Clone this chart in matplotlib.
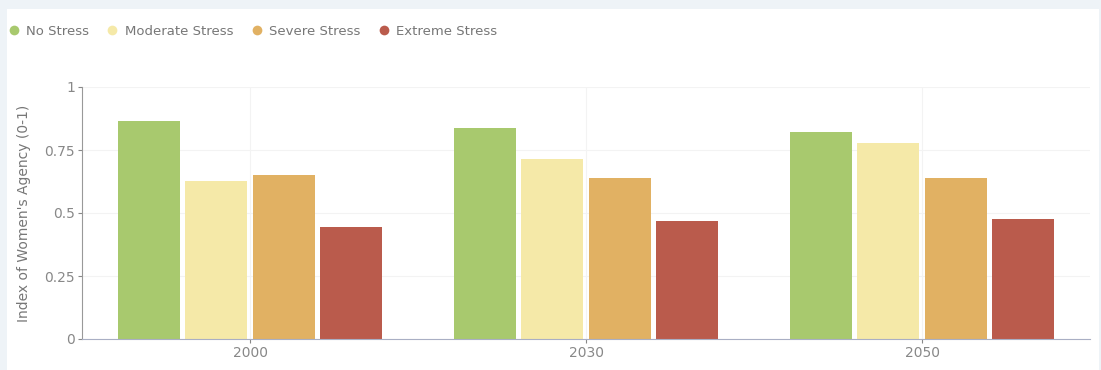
import numpy as np
import matplotlib.pyplot as plt
from matplotlib.lines import Line2D

years = ["2000", "2030", "2050"]
series = ["No Stress", "Moderate Stress", "Severe Stress", "Extreme Stress"]
no_stress = [0.865, 0.837, 0.820]
moderate_stress = [0.627, 0.714, 0.776]
severe_stress = [0.651, 0.639, 0.638]
extreme_stress = [0.446, 0.468, 0.475]
yticks = [0, 0.25, 0.5, 0.75, 1]
ytick_labels = ["0", "0.25", "0.5", "0.75", "1"]

colors = ["#a8c96e", "#f5e9a8", "#e1b163", "#ba5b4c"]
values = [no_stress, moderate_stress, severe_stress, extreme_stress]

######################################################
fig = plt.figure(figsize=(11.01, 3.70), dpi=100, facecolor="#eef3f7")
# white panel
fig.patches.append(plt.Rectangle((7/1101, 0), 1 - 9/1101, 1 - 9/370,
                                 transform=fig.transFigure, facecolor="white",
                                 edgecolor="none", zorder=0))
ax = fig.add_axes([82/1101, 31/370, 1008/1101, 252/370], facecolor="white")
ax.set_zorder(1)

x = np.arange(len(years))
for i, (vals, col, lab) in enumerate(zip(values, colors, series)):
    ax.bar(x + (i - 1.5) * 0.2, vals, width=0.185, color=col, label=lab, zorder=2)

ax.set_xlim(-0.5, 2.5)
ax.set_ylim(0, 1)
ax.set_yticks(yticks)
ax.set_yticklabels(ytick_labels)
ax.set_xticks(x)
ax.set_xticklabels(years)
ax.tick_params(axis="both", labelsize=10, colors="#888888", length=3, width=0.8, pad=2)
ax.set_ylabel("Index of Women's Agency (0-1)", fontsize=10, color="#777777", labelpad=10)

ax.grid(True, color="#f3f3f3", lw=0.8, zorder=0)
ax.spines["top"].set_visible(False)
ax.spines["right"].set_visible(False)
ax.spines["left"].set_color("#999999")
ax.spines["bottom"].set_color("#a9afc4")
ax.spines["left"].set_linewidth(0.8)
ax.spines["bottom"].set_linewidth(0.8)

############################################
handles = [Line2D([0], [0], marker="o", color="none", markerfacecolor=c,
                  markeredgecolor="none", markersize=7) for c in colors]
fig.legend(handles, series, loc="upper left", bbox_to_anchor=(-8/1101, 1 - 13/370),
           ncol=4, frameon=False, fontsize=9.5, handletextpad=0.2,
           columnspacing=1.0, handlelength=1.5, labelcolor="#777777")

plt.savefig("out.png", dpi=100, facecolor=fig.get_facecolor())
plt.close(fig)
